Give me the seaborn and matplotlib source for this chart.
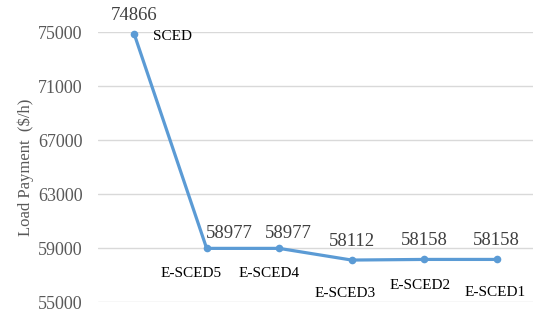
import matplotlib
matplotlib.use("Agg")
import matplotlib.pyplot as plt
import seaborn as sns
import pandas as pd

# values
schemes = ['SCED', 'E-SCED5', 'E-SCED4', 'E-SCED3', 'E-SCED2', 'E-SCED1']
payment = [74866, 58977, 58977, 58112, 58158, 58158]
yticks = [55000, 59000, 63000, 67000, 71000, 75000]

# label offsets in pixels (dx, dy)
value_off = [(0, 18), (23, 15), (9, 15), (0, 19), (0, 19), (0, 19)]
name_off = [(38, -3), (-16, -25), (-10, -25), (-7, -33), (-4, -26), (-2, -33)]

sns.set_style('white')
plt.rcParams['font.family'] = ['Liberation Serif', 'DejaVu Serif']

df = pd.DataFrame({'pos': range(len(schemes)), 'payment': payment, 'scheme': schemes})

fig = plt.figure(figsize=(5.35, 3.14), dpi=100)
ax = fig.add_axes([0.183, 0.038, 0.813, 0.86])

sns.lineplot(data=df, x='pos', y='payment', sort=False, ax=ax, color='#5B9BD5',
             linewidth=2.3, marker='o', markersize=5.5, markeredgewidth=0, clip_on=False)

for i, row in df.iterrows():
    ax.annotate(str(row['payment']), (row['pos'], row['payment']), xytext=value_off[i],
                textcoords='offset pixels', ha='center', va='center', fontsize=13.5,
                color='#404040', annotation_clip=False)
    ax.annotate(row['scheme'], (row['pos'], row['payment']), xytext=name_off[i],
                textcoords='offset pixels', ha='center', va='center', fontsize=11,
                color='black', annotation_clip=False)

ax.set_xlim(-0.5, 5.5)
ax.set_ylim(55000, 75000)
ax.set_yticks(yticks)
ax.set_xticks([])
ax.yaxis.grid(True, color='#D9D9D9', linewidth=1)
ax.set_axisbelow(True)
for s in ax.spines.values():
    s.set_visible(False)
ax.tick_params(axis='y', length=0, pad=11, labelsize=13, labelcolor='#595959')
ax.set_xlabel('')
ax.set_ylabel('Load Payment  ($/h)', fontsize=12, color='#595959', labelpad=3)

fig.savefig('out.png', dpi=100)
